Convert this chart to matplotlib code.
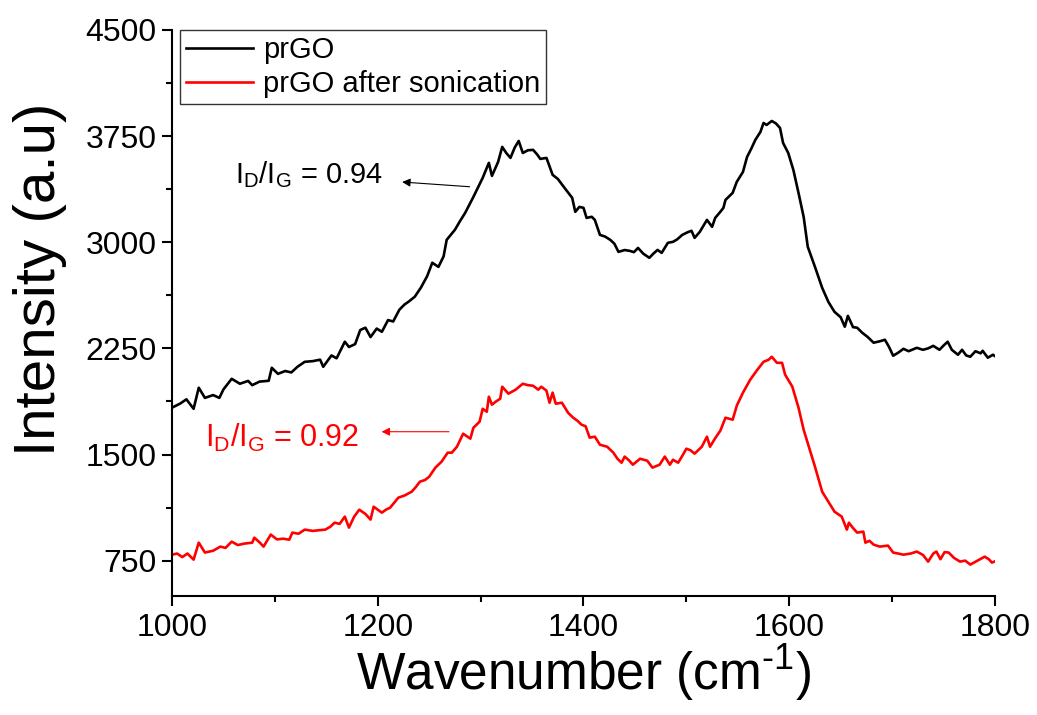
import matplotlib
matplotlib.use("Agg")
import matplotlib.pyplot as plt
from matplotlib.ticker import MultipleLocator
from matplotlib import font_manager

# ---------------- data ----------------
wn_prgo = [1000, 1008, 1014, 1021, 1026, 1032, 1040, 1046, 1050, 1058, 1066, 1074, 1078, 1085,
           1094, 1097, 1103, 1110, 1116, 1122, 1129, 1137, 1144, 1147, 1155, 1160, 1168, 1172,
           1178, 1183, 1188, 1193, 1199, 1204, 1210, 1215, 1221, 1226, 1230, 1236, 1242, 1248,
           1253, 1259, 1264, 1267, 1275, 1280, 1285, 1293, 1302, 1308, 1311, 1317, 1321, 1325,
           1329, 1333, 1337, 1341, 1346, 1351, 1355, 1358, 1364, 1370, 1375, 1382, 1389, 1392,
           1396, 1400, 1403, 1408, 1411, 1416, 1421, 1426, 1430, 1434, 1440, 1445, 1449, 1453,
           1458, 1464, 1468, 1472, 1476, 1482, 1487, 1491, 1496, 1501, 1505, 1508, 1513, 1520,
           1525, 1528, 1533, 1536, 1538, 1545, 1549, 1555, 1559, 1563, 1567, 1572, 1575, 1578,
           1583, 1587, 1591, 1594, 1599, 1604, 1609, 1614, 1618, 1625, 1632, 1638, 1644, 1650,
           1654, 1657, 1662, 1666, 1671, 1676, 1682, 1688, 1693, 1697, 1701, 1706, 1711, 1716,
           1724, 1730, 1735, 1740, 1746, 1750, 1754, 1758, 1764, 1768, 1772, 1776, 1781, 1786,
           1788, 1793, 1798, 1800]
int_prgo = [1831, 1860, 1890, 1823, 1972, 1900, 1920, 1900, 1960, 2035, 2000, 2020, 1990, 2015,
            2021, 2113, 2070, 2090, 2080, 2120, 2155, 2160, 2170, 2120, 2200, 2180, 2297, 2260,
            2280, 2380, 2396, 2330, 2390, 2367, 2450, 2440, 2523, 2560, 2580, 2615, 2680, 2760,
            2855, 2826, 2900, 3017, 3088, 3150, 3208, 3321, 3455, 3561, 3469, 3568, 3674, 3630,
            3596, 3667, 3716, 3631, 3650, 3653, 3620, 3589, 3596, 3476, 3448, 3380, 3314, 3215,
            3250, 3243, 3172, 3180, 3158, 3052, 3040, 3017, 2990, 2932, 2945, 2939, 2930, 2960,
            2920, 2890, 2920, 2946, 2925, 2996, 3003, 3020, 3052, 3070, 3081, 3031, 3073, 3158,
            3109, 3172, 3215, 3243, 3299, 3349, 3427, 3497, 3603, 3660, 3723, 3780, 3843, 3829,
            3857, 3840, 3808, 3702, 3631, 3511, 3349, 3179, 2968, 2826, 2678, 2579, 2508, 2470,
            2403, 2480, 2400, 2396, 2360, 2332, 2290, 2300, 2311, 2260, 2198, 2220, 2247, 2230,
            2254, 2240, 2250, 2268, 2240, 2270, 2297, 2240, 2205, 2240, 2200, 2191, 2230, 2215,
            2233, 2184, 2205, 2195]

wn_sonic = [1000, 1005, 1010, 1015, 1021, 1026, 1032, 1040, 1047, 1052, 1058, 1064, 1070, 1078,
            1080, 1085, 1089, 1096, 1102, 1108, 1114, 1117, 1123, 1129, 1137, 1143, 1149, 1154,
            1158, 1163, 1168, 1172, 1177, 1182, 1188, 1193, 1196, 1200, 1204, 1208, 1212, 1216,
            1220, 1226, 1233, 1237, 1241, 1246, 1250, 1256, 1262, 1268, 1272, 1277, 1283, 1290,
            1293, 1299, 1302, 1306, 1308, 1311, 1315, 1319, 1321, 1327, 1334, 1341, 1346, 1351,
            1356, 1359, 1364, 1367, 1370, 1373, 1379, 1385, 1390, 1394, 1398, 1402, 1406, 1411,
            1416, 1423, 1429, 1433, 1437, 1440, 1444, 1448, 1455, 1462, 1467, 1474, 1479, 1484,
            1487, 1492, 1496, 1500, 1504, 1508, 1515, 1520, 1523, 1528, 1533, 1538, 1545, 1549,
            1555, 1562, 1569, 1575, 1580, 1583, 1588, 1593, 1596, 1603, 1609, 1614, 1620, 1625,
            1632, 1638, 1644, 1651, 1656, 1658, 1662, 1666, 1672, 1674, 1678, 1682, 1688, 1696,
            1701, 1706, 1711, 1718, 1724, 1730, 1735, 1740, 1743, 1747, 1751, 1755, 1760, 1766,
            1771, 1776, 1783, 1790, 1794, 1797, 1800]
int_sonic = [792, 800, 775, 800, 757, 877, 807, 820, 849, 840, 884, 860, 870, 877,
             912, 880, 849, 934, 900, 905, 898, 948, 940, 969, 960, 965, 969, 990,
             1018, 1010, 1061, 983, 1060, 1110, 1080, 1040, 1131, 1110, 1089, 1110, 1124, 1160,
             1195, 1210, 1237, 1270, 1308, 1320, 1343, 1407, 1449, 1513, 1513, 1555, 1647, 1612,
             1689, 1732, 1823, 1802, 1908, 1852, 1875, 1894, 1979, 1930, 1958, 2000, 1990, 1986,
             1958, 1979, 1951, 1866, 1937, 1859, 1866, 1795, 1760, 1739, 1711, 1700, 1619, 1626,
             1569, 1555, 1513, 1470, 1442, 1485, 1460, 1428, 1470, 1456, 1407, 1428, 1485, 1428,
             1463, 1442, 1490, 1541, 1530, 1506, 1555, 1626, 1555, 1615, 1668, 1760, 1746, 1845,
             1937, 2028, 2099, 2155, 2170, 2191, 2148, 2148, 2064, 1979, 1831, 1675, 1534, 1414,
             1237, 1167, 1096, 1061, 969, 1018, 980, 948, 955, 877, 890, 863, 849, 856,
             807, 800, 792, 800, 814, 790, 743, 800, 814, 760, 810, 807, 770, 743,
             750, 722, 750, 778, 760, 736, 745]

series_labels = ["prGO", "prGO after sonication"]
ratio_labels = ["0.94", "0.92"]
x_ticks = [1000, 1200, 1400, 1600, 1800]
y_ticks = [750, 1500, 2250, 3000, 3750, 4500]

# ---------------- fonts ----------------
avail = {f.name for f in font_manager.fontManager.ttflist}
base_font = "Liberation Sans" if "Liberation Sans" in avail else "DejaVu Sans"
plt.rcParams["font.family"] = [base_font, "DejaVu Sans"]
plt.rcParams["mathtext.fontset"] = "custom"
plt.rcParams["mathtext.rm"] = base_font
plt.rcParams["mathtext.default"] = "regular"

fig = plt.figure(figsize=(10.37, 7.15), dpi=100)
ax = fig.add_axes([172 / 1037, 1 - 596 / 715, (995 - 172) / 1037, (596 - 30) / 715])

ax.plot(wn_prgo, int_prgo, color="black", lw=1.9, label=series_labels[0])
ax.plot(wn_sonic, int_sonic, color="red", lw=1.9, label=series_labels[1])

ax.set_xlim(1000, 1800)
ax.set_ylim(500, 4500)
ax.set_xticks(x_ticks)
ax.set_yticks(y_ticks)
ax.xaxis.set_minor_locator(MultipleLocator(100))
ax.yaxis.set_minor_locator(MultipleLocator(375))

for s in ["top", "right"]:
    ax.spines[s].set_visible(False)
for s in ["left", "bottom"]:
    ax.spines[s].set_linewidth(1.5)

ax.tick_params(which="major", direction="out", length=7, width=1.5)
ax.tick_params(which="minor", direction="out", length=4.5, width=1.5)
ax.tick_params(axis="y", labelsize=23, pad=4)
ax.tick_params(axis="x", labelsize=23, pad=5)

ax.set_xlabel("Wavenumber (cm$^{\\text{-1}}$)", fontsize=37, labelpad=0)
ax.set_ylabel("Intensity (a.u)", fontsize=42)
ax.yaxis.set_label_coords(-0.127, 0.56)

leg = ax.legend(loc="upper left", bbox_to_anchor=(8 / 823, 1.0), borderaxespad=0,
                fontsize=21, frameon=True, fancybox=False, handlelength=2.3,
                handletextpad=0.35, labelspacing=0.22, borderpad=0.2)
leg.get_frame().set_edgecolor("black")
leg.get_frame().set_linewidth(1.0)

# annotations
ax.text(1061, 3420, "I$_{D}$/I$_{G}$ = " + ratio_labels[0], fontsize=21, color="black",
        ha="left", va="baseline")
ax.annotate("", xy=(1221, 3427), xytext=(1292, 3391),
            arrowprops=dict(arrowstyle="-|>", color="black", lw=0.8, mutation_scale=12))
ax.text(1032, 1555, "I$_{D}$/I$_{G}$ = " + ratio_labels[1], fontsize=22, color="red",
        ha="left", va="baseline")
ax.annotate("", xy=(1201, 1661), xytext=(1272, 1661),
            arrowprops=dict(arrowstyle="-|>", color="red", lw=0.8, mutation_scale=12))

fig.savefig("out.png", dpi=100)
